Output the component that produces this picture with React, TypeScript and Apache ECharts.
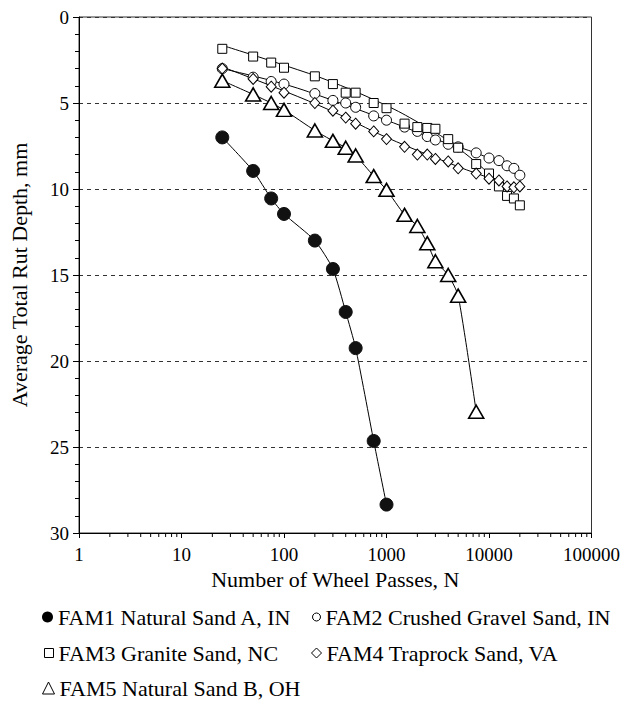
import React, { useEffect, useRef } from "react";
import * as echarts from "echarts";

// ---- data ----
const fam1Passes = [25, 50, 75, 100, 200, 300, 400, 500, 750, 1000];
const fam1Rut = [7.0, 8.95, 10.55, 11.45, 13.0, 14.65, 17.15, 19.25, 24.65, 28.35];

const fam5Passes = [25, 50, 75, 100, 200, 300, 400, 500, 750, 1000, 1500, 2000, 2500, 3000, 4000, 5000, 7500];
const fam5Rut = [3.7, 4.5, 5.0, 5.4, 6.6, 7.2, 7.6, 8.05, 9.25, 10.05, 11.5, 12.15, 13.15, 14.2, 15.0, 16.2, 22.95];

const longPasses = [25, 50, 75, 100, 200, 300, 400, 500, 750, 1000, 1500, 2000, 2500, 3000, 4000, 5000, 7500, 10000, 12500, 15000, 17500, 20000];
const fam2Rut = [3.0, 3.5, 3.75, 3.9, 4.45, 4.85, 5.0, 5.25, 5.75, 6.0, 6.4, 6.65, 6.95, 7.15, 7.4, 7.55, 7.9, 8.2, 8.35, 8.65, 8.8, 9.2];
const fam3Rut = [1.85, 2.3, 2.65, 2.95, 3.45, 3.9, 4.4, 4.4, 5.0, 5.3, 6.2, 6.4, 6.45, 6.5, 7.1, 7.6, 8.55, 9.1, 9.85, 10.4, 10.55, 10.95];
const fam4Rut = [3.0, 3.6, 4.05, 4.4, 5.0, 5.45, 5.85, 6.2, 6.65, 7.1, 7.55, 8.0, 8.0, 8.25, 8.4, 8.8, 9.1, 9.4, 9.5, 9.85, 9.9, 9.85];

// fitted curves as drawn in the reference
const fam2FitPasses = [25, 100, 300, 1000, 3000, 10000, 20000];
const fam2FitRut = [3.0, 3.9, 4.85, 6.0, 7.1, 8.2, 9.1];
const fam3FitPasses = [25, 100, 300, 1000, 2000, 4000, 10000, 20000];
const fam3FitRut = [1.65, 2.8, 3.8, 5.15, 6.1, 7.2, 9.1, 10.85];
const fam4FitPasses = [25, 100, 300, 1000, 5000, 10000, 20000];
const fam4FitRut = [2.9, 4.3, 5.5, 7.0, 8.7, 9.35, 10.0];

const seriesNames = [
  "FAM1 Natural Sand A, IN",
  "FAM2 Crushed Gravel Sand, IN",
  "FAM3 Granite Sand, NC",
  "FAM4 Traprock Sand, VA",
  "FAM5 Natural Sand B, OH",
];

const xTickValues = [1, 10, 100, 1000, 10000, 100000];
const minorMultipliers = [2, 3, 4, 5, 6, 7, 8, 9];

const zip = (xs: number[], ys: number[]) => xs.map((x, i) => [x, ys[i]]);

const FONT = "'Liberation Serif', 'Times New Roman', serif";

export default function App() {
  const ref = useRef<HTMLDivElement>(null);

  useEffect(() => {
    if (!ref.current) return;
    const chart = echarts.init(ref.current, null, { renderer: "svg" });

    const minorX: number[][] = [];
    xTickValues.slice(0, -1).forEach((d) => minorMultipliers.forEach((m) => minorX.push([d * m, 30])));

    const openStyle = { color: "#fff", borderColor: "#000", borderWidth: 1 };
    const lineStyle = { color: "#000", width: 1 };

    const fitSeries = (data: number[][]) => ({
      type: "line",
      data,
      showSymbol: false,
      symbol: "none",
      smooth: 0.4,
      lineStyle,
      silent: true,
      z: 1,
    });

    const legendBase = (name: string, left: number, top: number, icon: string, size: number, itemStyle: any) => ({
      data: [{ name, icon, itemStyle }],
      left,
      top,
      orient: "horizontal",
      padding: 0,
      itemWidth: size,
      itemHeight: size,
      textStyle: { fontFamily: FONT, fontSize: 22, color: "#000" },
      selectedMode: false,
    });

    chart.setOption({
      animation: false,
      backgroundColor: "#fff",
      grid: { left: 77, right: 31, top: 17, bottom: 173, show: true, borderColor: "#333", borderWidth: 1 },
      xAxis: {
        type: "log",
        logBase: 10,
        min: 1,
        max: 100000,
        name: "Number of Wheel Passes, N",
        nameLocation: "middle",
        nameGap: 34,
        nameTextStyle: { fontFamily: FONT, fontSize: 22, color: "#000" },
        axisLine: { show: true, onZero: false, lineStyle: { color: "#000", width: 1 } },
        axisTick: { show: true, inside: false, length: 5, lineStyle: { color: "#000" } },
        axisLabel: {
          fontFamily: FONT,
          fontSize: 19,
          color: "#000",
          margin: 12,
          formatter: (v: number) => String(Math.round(v)),
        },
        splitLine: { show: false },
        minorTick: { show: false },
      },
      yAxis: {
        type: "value",
        inverse: true,
        min: 0,
        max: 30,
        interval: 5,
        name: "Average Total Rut Depth, mm",
        nameLocation: "middle",
        nameGap: 49,
        nameTextStyle: { fontFamily: FONT, fontSize: 22, color: "#000" },
        axisLine: { show: true, onZero: false, lineStyle: { color: "#000", width: 1 } },
        axisTick: { show: true, length: 6, lineStyle: { color: "#000" } },
        minorTick: { show: true, splitNumber: 5, length: 4, lineStyle: { color: "#000" } },
        axisLabel: { fontFamily: FONT, fontSize: 19, color: "#000", margin: 10 },
        splitLine: { show: true, lineStyle: { color: "#333", type: [4, 4], width: 1 } },
      },
      legend: [
        legendBase(seriesNames[0], 42, 606, "circle", 11, { color: "#000", borderColor: "#000" }),
        legendBase(seriesNames[1], 312, 606, "circle", 8, openStyle),
        legendBase(seriesNames[2], 44, 642, "rect", 9, openStyle),
        legendBase(seriesNames[3], 311, 642, "diamond", 10, openStyle),
        legendBase(seriesNames[4], 42, 677, "triangle", 12, openStyle),
      ],
      series: [
        {
          name: seriesNames[0],
          type: "line",
          data: zip(fam1Passes, fam1Rut),
          symbol: "circle",
          symbolSize: 13,
          smooth: 0.2,
          itemStyle: { color: "#111", borderColor: "#111" },
          lineStyle,
          z: 3,
        },
        {
          name: seriesNames[1],
          type: "line",
          data: zip(longPasses, fam2Rut),
          symbol: "circle",
          symbolSize: 10,
          itemStyle: openStyle,
          lineStyle: { width: 0, opacity: 0 },
          z: 3,
        },
        {
          name: seriesNames[2],
          type: "line",
          data: zip(longPasses, fam3Rut),
          symbol: "rect",
          symbolSize: 9,
          itemStyle: openStyle,
          lineStyle: { width: 0, opacity: 0 },
          z: 3,
        },
        {
          name: seriesNames[3],
          type: "line",
          data: zip(longPasses, fam4Rut),
          symbol: "diamond",
          symbolSize: [10, 11],
          itemStyle: openStyle,
          lineStyle: { width: 0, opacity: 0 },
          z: 3,
        },
        {
          name: seriesNames[4],
          type: "line",
          data: zip(fam5Passes, fam5Rut),
          symbol: "triangle",
          symbolSize: [15, 13],
          smooth: 0.2,
          itemStyle: { color: "#fff", borderColor: "#000", borderWidth: 1.6 },
          lineStyle,
          z: 3,
        },
        fitSeries(zip(fam2FitPasses, fam2FitRut)),
        fitSeries(zip(fam3FitPasses, fam3FitRut)),
        fitSeries(zip(fam4FitPasses, fam4FitRut)),
        {
          type: "custom",
          data: minorX,
          silent: true,
          clip: false,
          renderItem: (_p: any, api: any) => {
            const pt = api.coord([api.value(0), api.value(1)]);
            return {
              type: "line",
              shape: { x1: pt[0], y1: pt[1], x2: pt[0], y2: pt[1] + 4 },
              style: { stroke: "#000", lineWidth: 1 },
            };
          },
        },
      ],
    });

    return () => chart.dispose();
  }, []);

  return (
    <div
      ref={ref}
      style={{ position: "fixed", left: 0, top: 0, width: 623, height: 706, background: "#fff" }}
    />
  );
}
